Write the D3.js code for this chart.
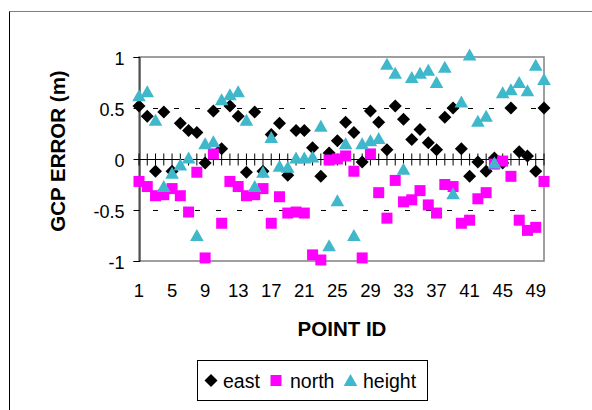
<!DOCTYPE html>
<html><head><meta charset="utf-8">
<script src="https://cdn.jsdelivr.net/npm/d3@7"></script>
<style>body{margin:0;background:#fff}svg{display:block}</style>
</head><body>
<script>
const pointIds = d3.range(1, 51);
const tickLabels = [1,5,9,13,17,21,25,29,33,37,41,45,49];
const yTicks = [-1,-0.5,0,0.5,1];
const east = [0.52,0.42,-0.12,0.46,-0.12,0.35,0.28,0.26,-0.04,0.47,
  0.10,0.52,0.42,-0.13,0.46,-0.12,0.24,0.35,-0.16,0.28,
  0.28,0.11,-0.17,0.06,0.18,0.36,0.26,-0.03,0.47,0.36,
  0.09,0.52,0.39,0.19,0.29,0.16,0.09,0.41,0.50,0.10,
  -0.17,-0.03,-0.12,0.01,-0.04,0.50,0.07,0.03,-0.12,0.50];
const north = [-0.22,-0.27,-0.36,-0.35,-0.29,-0.36,-0.52,-0.13,-0.97,0.05,
  -0.63,-0.22,-0.27,-0.36,-0.35,-0.29,-0.63,-0.37,-0.53,-0.52,
  -0.53,-0.94,-0.99,-0.01,0.00,0.03,-0.12,-0.97,0.05,-0.33,
  -0.58,-0.21,-0.42,-0.40,-0.31,-0.45,-0.53,-0.25,-0.27,-0.63,
  -0.60,-0.39,-0.33,-0.05,-0.02,-0.17,-0.60,-0.70,-0.67,-0.22];
const height = [0.62,0.66,0.38,-0.27,-0.14,-0.06,0.01,-0.75,0.15,0.17,
  0.58,0.63,0.66,0.38,-0.27,-0.13,0.21,-0.07,-0.08,0.01,
  0.01,0.02,0.32,-0.85,-0.41,0.15,-0.75,0.15,0.18,0.20,
  0.93,0.84,-0.10,0.80,0.84,0.87,0.75,0.90,-0.34,0.56,
  1.02,0.37,0.42,-0.04,0.65,0.68,0.75,0.67,0.92,0.78];
const seriesNames = ["east","north","height"];

const W = 592, H = 410;
const font = "Arial, 'Liberation Sans', sans-serif";
const svg = d3.select("body").append("svg").attr("width", W).attr("height", H);

// chart area border (top & left visible)
svg.append("line").attr("x1",9.5).attr("x2",W).attr("y1",11.5).attr("y2",11.5).attr("stroke","#808080");
svg.append("line").attr("x1",9.5).attr("x2",9.5).attr("y1",11.5).attr("y2",H).attr("stroke","#000");

const x = d3.scalePoint().domain(pointIds).range([139, 544]);
const y = d3.scaleLinear().domain([-1, 1]).range([261, 57]);

// plot area border
svg.append("rect").attr("x",139).attr("y",57).attr("width",405).attr("height",204)
  .attr("fill","none").attr("stroke","#808080").attr("stroke-width",1.5);

// dashed gridlines
svg.selectAll(".grid").data([-0.5,0.5]).enter().append("line")
  .attr("x1",139).attr("x2",544).attr("y1",d=>Math.round(y(d))+0.5).attr("y2",d=>Math.round(y(d))+0.5)
  .attr("stroke","#000").attr("stroke-dasharray","5,16").attr("stroke-dashoffset",-14);

// y axis
const yAxis = d3.axisLeft(y).tickValues(yTicks).tickSize(6).tickPadding(9)
  .tickFormat(d => d === 0 ? "0" : String(d));
const gy = svg.append("g").attr("transform","translate(139.5,0)").call(yAxis);
gy.select(".domain").attr("stroke","#000");
gy.selectAll("text").attr("font-family",font).attr("font-size",18).attr("fill","#000").attr("dy","0.4em");

// x axis at y=0 with crossing ticks
const y0 = Math.round(y(0)) + 0.5;
svg.append("line").attr("x1",139).attr("x2",544).attr("y1",y0).attr("y2",y0).attr("stroke","#000");
svg.selectAll(".xt").data(pointIds).enter().append("line")
  .attr("x1",d=>x(d)).attr("x2",d=>x(d)).attr("y1",y0-6).attr("y2",y0+6).attr("stroke","#000");

// x labels low
svg.selectAll(".xl").data(tickLabels).enter().append("text")
  .attr("x",d=>x(d)).attr("y",297).attr("text-anchor","middle")
  .attr("font-family",font).attr("font-size",18.5).text(d=>d);

// axis titles
svg.append("text").attr("transform","translate(65,151) rotate(-90)").attr("text-anchor","middle")
  .attr("font-family",font).attr("font-weight","bold").attr("font-size",20.5).text("GCP ERROR (m)");
svg.append("text").attr("x",342).attr("y",336).attr("text-anchor","middle")
  .attr("font-family",font).attr("font-weight","bold").attr("font-size",20.5).text("POINT ID");

// markers
const diamond = "M0,-6.5L6.5,0L0,6.5L-6.5,0Z";
const square = "M-5.5,-5.5H5.5V5.5H-5.5Z";
const triangle = "M0,-6.5L6.8,5.5L-6.8,5.5Z";
const colors = {east:"#000000", north:"#FF00FF", height:"#3FB8CB"};
const shapes = {east:diamond, north:square, height:triangle};
const dataBy = {east, north, height};

seriesNames.forEach(name => {
  svg.append("g").selectAll("path").data(dataBy[name]).enter().append("path")
    .attr("d", shapes[name])
    .attr("transform",(d,i)=>`translate(${x(pointIds[i])},${y(d)})`)
    .attr("fill", colors[name]);
});

// legend
svg.append("rect").attr("x",197.5).attr("y",360.5).attr("width",230).attr("height",40)
  .attr("fill","#fff").attr("stroke","#000");
const legendItems = [{n:"east",mx:211,tx:223},{n:"north",mx:276,tx:290},{n:"height",mx:350.5,tx:363}];
legendItems.forEach(it => {
  svg.append("path").attr("d",shapes[it.n]).attr("transform",`translate(${it.mx},380.5)`).attr("fill",colors[it.n]);
  svg.append("text").attr("x",it.tx).attr("y",387.5).attr("font-family",font).attr("font-size",19.5).text(it.n);
});
</script>
</body></html>
